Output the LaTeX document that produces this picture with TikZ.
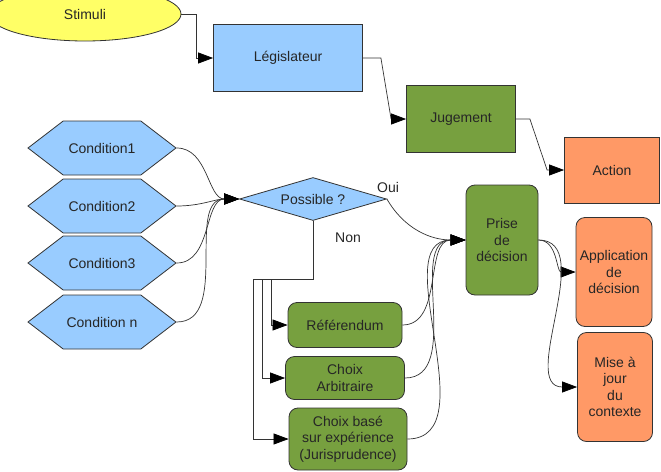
\documentclass[tikz,border=0pt]{standalone}
\usepackage{fontspec}
\setmainfont{Liberation Sans}
\usetikzlibrary{arrows.meta,positioning,calc,shapes.geometric,shapes.symbols}
\definecolor{jaune}{HTML}{FFFF66}
\definecolor{bleu}{HTML}{99CCFF}
\definecolor{vert}{HTML}{77A03F}
\definecolor{orangec}{HTML}{FF9966}
\definecolor{trait}{HTML}{333333}

\begin{document}
\begin{tikzpicture}[x=1pt,y=-1pt,
  txt/.style={font=\fontsize{14}{16.5}\selectfont,text=black!85,align=center,inner sep=1pt},
  boite/.style={txt,draw=trait,line width=0.8pt,minimum width=#1},
  boiteR/.style={boite=#1,rounded corners=9pt},
  hexa/.style={txt,draw=trait,line width=0.8pt,fill=bleu,shape=signal,signal to=west and east,
    signal pointer angle=75,minimum width=148,minimum height=54},
  fleche/.style={draw=trait,line width=0.7pt,-{Triangle[length=15pt,width=11pt,color=black]}}]
  \useasboundingbox (0,0) rectangle (661,471);
  % 上段：刺激 → 立法者 → 判断 → 行動
  \node[boite=192,shape=ellipse,fill=jaune,minimum height=54] (stim) at (85,14) {Stimuli};
  \node[boite=149,fill=bleu,minimum height=67] (leg) at (288,58) {Législateur};
  \node[boite=109,fill=vert,minimum height=67] (jug) at (461,119) {Jugement};
  \node[boite=95,fill=orangec,minimum height=66] (act) at (612,170) {Action};
  \draw[fleche] (stim.east) -- ++(15,0) |- (leg.west);
  \draw[fleche] (leg.east) -- ++(18,0) -- ($(jug.west)+(-15,0)$) -- (jug.west);
  \draw[fleche] (jug.east) -- ++(14,0) -- ($(act.west)+(-17,0)$) -- (act.west);
  % 条件(六角形)と判定(ひし形)
  \node[txt,draw=trait,line width=0.8pt,fill=bleu,shape=diamond,aspect=3.4,inner sep=0pt,
    minimum width=147,minimum height=43] (poss) at (313,199) {Possible ?};
  \foreach \nom/\y/\lab in {c1/148/Condition1, c2/206/Condition2, c3/263/Condition3, c4/322/Condition n}{
    \node[hexa] (\nom) at (102,\y) {\lab};
    \draw[fleche] (\nom.east) to[out=0,in=180] (poss.west);
  }
  \node[txt] (oui) at (388,187) {Oui};
  \node[txt] (non) at (348,238) {Non};
  % 「Non」の場合の三つの選択肢
  \node[boiteR=114,fill=vert,minimum height=45] (ref) at (345,325) {Référendum};
  \node[boiteR=119,fill=vert,minimum height=43] (arb) at (345,378) {Choix\\Arbitraire};
  \node[boiteR=118,fill=vert,minimum height=62] (jur) at (348,439) {Choix basé\\sur expérience\\(Jurisprudence)};
  \coordinate (brA) at (271,279);
  \coordinate (brB) at (262,279);
  \coordinate (brC) at (253,279);
  \draw[fleche] (poss.south) |- (brA) |- (ref.west);
  \draw[fleche] (poss.south) |- (brB) |- (arb.west);
  \draw[fleche] (poss.south) |- (brC) |- (jur.west);
  % 決定とその結果
  \node[boiteR=72,fill=vert,minimum height=110] (prise) at (502,240) {Prise\\de\\décision};
  \node[boiteR=76,fill=orangec,minimum height=109] (app) at (614,272) {Application\\de\\décision};
  \node[boiteR=75,fill=orangec,minimum height=109] (maj) at (615,387) {Mise à\\jour\\du\\contexte};
  \draw[fleche] (poss.east) to[out=-60,in=180] (prise.west);
  \foreach \src in {ref,arb,jur}{
    \draw[fleche] (\src.east) to[out=0,in=180] (prise.west);
  }
  \draw[fleche] (prise.east) to[out=0,in=180] (app.west);
  \draw[fleche] (prise.east) to[out=0,in=180] (maj.west);
\end{tikzpicture}
\end{document}
